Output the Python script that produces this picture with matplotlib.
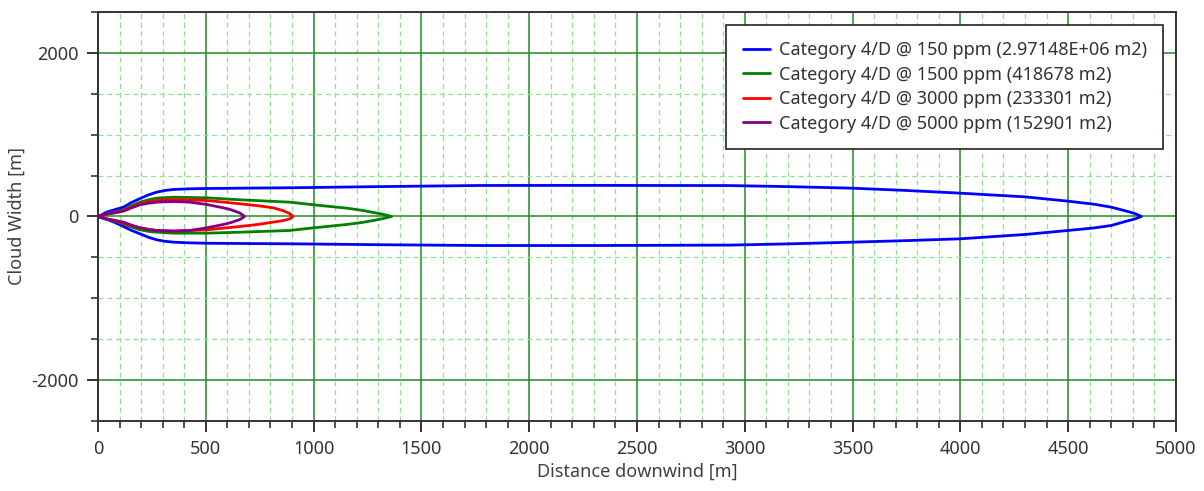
import matplotlib
matplotlib.use("Agg")
import matplotlib.pyplot as plt
from matplotlib.ticker import MultipleLocator

plt.rcParams['font.family'] = ['Noto Sans', 'DejaVu Sans']
plt.rcParams['axes.unicode_minus'] = False

labels = [
    "Category 4/D @ 150 ppm (2.97148E+06 m2)",
    "Category 4/D @ 1500 ppm (418678 m2)",
    "Category 4/D @ 3000 ppm (233301 m2)",
    "Category 4/D @ 5000 ppm (152901 m2)",
]
colors = ["#0000FF", "#008000", "#FF0000", "#800080"]

# 150 ppm
x150 = [0, 20, 40, 80, 118, 155, 195, 235, 272, 310, 350, 420, 504, 700, 890, 1300, 1772,
        2300, 2931, 3200, 3500, 3750, 4000, 4300, 4500, 4620, 4700, 4771, 4810, 4840]
up150 = [0, 25, 53, 85, 114, 170, 220, 265, 297, 318, 330, 338, 342, 347, 351, 365, 379,
         380, 378, 365, 346, 318, 285, 240, 187, 150, 114, 65, 35, 0]
lo150 = [0, -20, -35, -75, -122, -170, -212, -255, -285, -303, -314, -322, -327, -331, -334, -345, -355,
         -355, -350, -335, -314, -295, -273, -220, -171, -140, -110, -57, -30, 0]

# 1500 ppm
x1500 = [0, 20, 40, 80, 118, 155, 195, 235, 272, 350, 504, 659, 890, 999, 1153, 1220, 1277, 1320, 1362]
up1500 = [0, 15, 30, 55, 82, 130, 175, 205, 224, 236, 228, 204, 175, 143, 102, 77, 49, 28, 0]
lo1500 = [0, -15, -30, -60, -90, -128, -163, -182, -192, -204, -204, -192, -171, -139, -98, -75, -49, -27, 0]

# 3000 ppm
x3000 = [0, 20, 40, 80, 118, 155, 195, 235, 272, 350, 504, 659, 740, 813, 860, 890, 905]
up3000 = [0, 15, 30, 50, 73, 115, 155, 180, 196, 208, 196, 155, 132, 106, 70, 35, 0]
lo3000 = [0, -15, -30, -55, -82, -112, -139, -158, -171, -179, -163, -122, -98, -69, -50, -28, 0]

# 5000 ppm
x5000 = [0, 20, 40, 80, 118, 155, 195, 235, 272, 350, 427, 504, 581, 620, 660, 680]
up5000 = [0, 15, 30, 45, 65, 105, 143, 163, 175, 183, 175, 147, 106, 80, 40, 0]
lo5000 = [0, -15, -30, -48, -69, -105, -139, -158, -171, -179, -171, -139, -98, -72, -35, 0]

series = [(x150, up150, lo150), (x1500, up1500, lo1500),
          (x3000, up3000, lo3000), (x5000, up5000, lo5000)]

fig = plt.figure(figsize=(12.04, 4.91), dpi=100)
ax = fig.add_axes([0.0814, 0.1426, 0.8953, 0.833])

for (xs, up, lo), c, lab in zip(series, colors, labels):
    px = list(xs) + list(reversed(xs))
    py = list(lo) + list(reversed(up))
    ax.plot(px, py, color=c, lw=2.0, label=lab, solid_joinstyle='round',
            solid_capstyle='round', zorder=3)

ax.set_xlim(0, 5000)
ax.set_ylim(-2500, 2500)
ax.xaxis.set_major_locator(MultipleLocator(500))
ax.xaxis.set_minor_locator(MultipleLocator(100))
ax.yaxis.set_major_locator(MultipleLocator(2000))
ax.yaxis.set_minor_locator(MultipleLocator(500))

ax.grid(which='minor', color='#8fe38f', linestyle=(0, (4, 3)), lw=0.9, zorder=0)
ax.grid(which='major', color='#1f8c1f', linestyle='-', lw=1.1, zorder=1)
ax.set_axisbelow(True)

for s in ax.spines.values():
    s.set_color('#333333')
    s.set_linewidth(1.4)

ax.tick_params(which='major', direction='out', length=8, width=1.4, color='#333333',
               labelsize=13, labelcolor='#333333', pad=6)
ax.tick_params(which='minor', direction='out', length=5, width=1.2, color='#333333')

ax.set_xlabel("Distance downwind [m]", fontsize=13, color='#404040', labelpad=3)
ax.set_ylabel("Cloud Width [m]", fontsize=13, color='#404040', labelpad=4)

leg = ax.legend(loc='upper right', bbox_to_anchor=(0.988, 0.968), borderaxespad=0,
                fontsize=13, frameon=True, fancybox=False, handlelength=1.5,
                labelspacing=0.36, borderpad=0.9, handletextpad=0.5)
leg.get_frame().set_edgecolor('#222222')
leg.get_frame().set_linewidth(1.2)
leg.get_frame().set_alpha(1)
for t in leg.get_texts():
    t.set_color('#333333')

fig.savefig("out.png", dpi=100)
